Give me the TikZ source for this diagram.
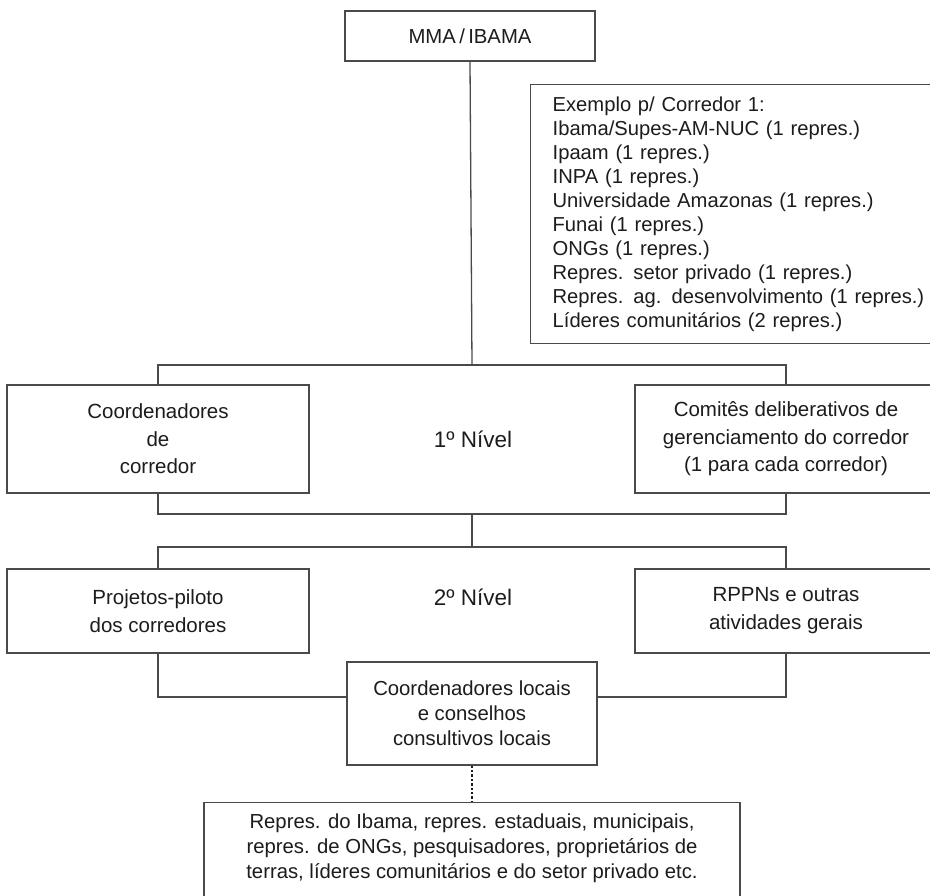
\documentclass[tikz,border=0pt]{standalone}
\usepackage{fontspec}
\setmainfont{Liberation Sans}
\definecolor{linec}{HTML}{4A4A4A}
\definecolor{textc}{HTML}{1C1C1C}
\begin{document}
\begin{tikzpicture}[x=1pt,y=-1pt,
  every node/.style={text=textc, font=\fontsize{20.3}{26}\selectfont},
  boxst/.style={draw=linec, line width=1.3pt, inner sep=0pt, align=center},
  lvl/.style={font=\fontsize{22.5}{26}\selectfont},
  link/.style={draw=linec, line width=1.3pt},
  dotlink/.style={draw=textc, line width=2.4pt, dash pattern=on 2.4pt off 2pt}]
\useasboundingbox (0,0) rectangle (930,896);
\clip (0,0) rectangle (930,896);
\fill[white] (0,0) rectangle (930,896);

% top
\node (mma) [boxst, minimum width=250, minimum height=50] at (470,36) {MMA\,/\,IBAMA};

\node (ex) [boxst, anchor=north west, minimum height=259, text width=400, inner xsep=22, align=left,
  font=\fontsize{20.2}{24}\selectfont] at (530,84)
  {Exemplo p/ Corredor 1:\\
   Ibama/Supes-AM-NUC (1 repres.)\\
   Ipaam (1 repres.)\\
   INPA (1 repres.)\\
   Universidade Amazonas (1 repres.)\\
   Funai (1 repres.)\\
   ONGs (1 repres.)\\
   Repres. setor privado (1 repres.)\\
   Repres. ag. desenvolvimento (1 repres.)\\
   L\'ideres comunit\'arios (2 repres.)};

% level 1
\node (c1) [boxst, minimum width=302, minimum height=108, font=\fontsize{20.5}{27.5}\selectfont] at (158,439) {Coordenadores\\de\\corredor};
\node (n1) [lvl] at (473,439) {1º Nível};
\node (c2) [boxst, minimum width=302, minimum height=108, font=\fontsize{20.5}{27.5}\selectfont] at (786,439) {Comitês deliberativos de\\gerenciamento do corredor\\(1 para cada corredor)};

% level 2
\node (p1) [boxst, minimum width=302, minimum height=84, font=\fontsize{20.5}{28}\selectfont] at (158,611) {Projetos-piloto\\dos corredores};
\node (n2) [lvl] at (473,597) {2º Nível};
\node (p2) [boxst, minimum width=302, minimum height=84, font=\fontsize{20.5}{28}\selectfont] at (786,611) {RPPNs e outras\\atividades gerais};

\node (loc) [boxst, minimum width=250, minimum height=103, font=\fontsize{20.3}{25}\selectfont] at (472,713.5) {Coordenadores locais\\e conselhos\\consultivos locais};

\node (botbox) [boxst, anchor=north, minimum width=536, minimum height=120] at (472,802) {};
\node (bottext) [align=center, font=\fontsize{20.3}{25}\selectfont] at (472,848)
  {Repres. do Ibama, repres. estaduais, municipais,\\
   repres. de ONGs, pesquisadores, proprietários de\\
   terras, líderes comunitários e do setor privado etc.};

% junctions
\coordinate (j1) at (472,365);
\coordinate (j2) at (472,514);
\coordinate (j3) at (472,547);

\draw[link] (mma.south) -- (j1);
\draw[link] (c1.north) |- (j1) -| (c2.north);
\draw[link] (c1.south) |- (j2) -| (c2.south);
\draw[link] (j2) -- (j3);
\draw[link] (p1.north) |- (j3) -| (p2.north);
\draw[link] (p1.south) |- ([yshift=16.5pt]loc.west);
\draw[link] (p2.south) |- ([yshift=16.5pt]loc.east);
\draw[dotlink] (loc.south) -- (botbox.north);
\end{tikzpicture}
\end{document}
